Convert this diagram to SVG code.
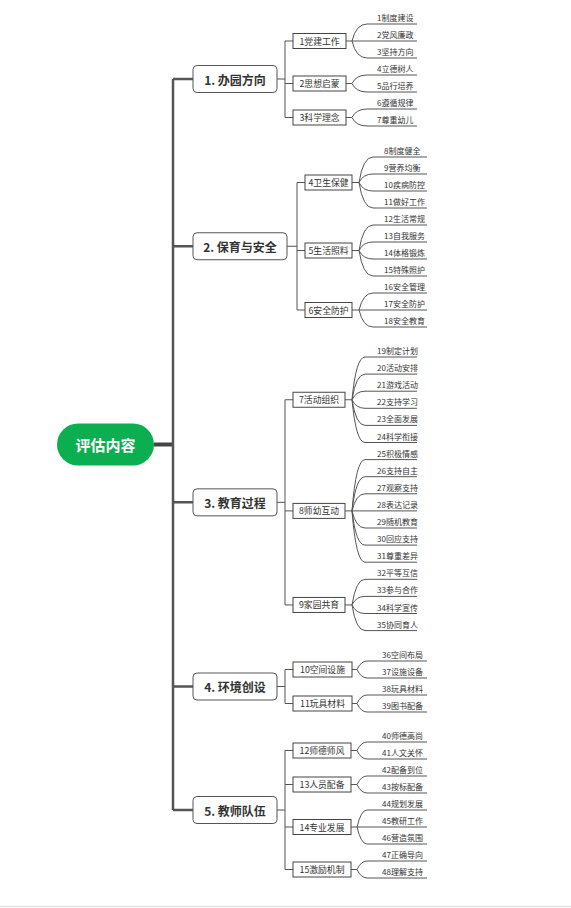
<svg xmlns="http://www.w3.org/2000/svg" width="571" height="908" viewBox="0 0 571 908">
<style>
text{font-family:"Noto Sans CJK SC","Liberation Sans",sans-serif;fill:#333}
.root rect{fill:#0BAF4F}
.root text{fill:#fff;font-size:15px;font-weight:bold}
.l1 rect{fill:#fff;stroke:#555;stroke-width:1}
.l1 text{font-size:12px;font-weight:bold}
.l2 rect{fill:#fff;stroke:#444;stroke-width:1}
.l2 text{font-size:8.8px}
.leaf text{font-size:8px}
.c{fill:none;stroke:#555;stroke-width:1}
.trunk{fill:none;stroke:#555;stroke-width:2.5}
.leafline{fill:none;stroke:#555;stroke-width:1}
</style>
<rect width="571" height="908" fill="#fff"/>
<line x1="0" y1="906.5" x2="571" y2="906.5" stroke="#e2e2e2" stroke-width="1.5"/>
<g id="connectors">
<path class="trunk" d="M154,444.5H173" stroke-width="4" style="stroke-width:4;stroke:#444"/>
<path class="trunk" d="M173,79V810M173,79H193M173,246.25H193M173,502.35H193M173,686.5H193M173,810H193"/>
<path class="c" d="M277,79H285M285,41V117.5M285,41H293M285,83.5H293M285,117.5H293"/>
<path class="c" d="M287,246.25H297M297,182.5V310M297,182.5H305M297,250.5H305M297,310H305"/>
<path class="c" d="M277,502.35H285M285,399.75V604.95M285,399.75H293M285,510.9H293M285,604.95H293"/>
<path class="c" d="M277,686.5H285M285,669.5V703.5M285,669.5H293M285,703.5H293"/>
<path class="c" d="M277,810H285M285,750.5V869.5M285,750.5H293M285,784.5H293M285,827H293M285,869.5H293"/>
<!-- group 1 leaves -->
<path class="leafline" d="M346,41H352M352,41Q356,24 367,24H417M352,41H417M352,41Q356,58 367,58H417"/>
<path class="leafline" d="M346,83.5H352M352,83.5Q356,75 367,75H417M352,83.5Q356,92 367,92H417"/>
<path class="leafline" d="M346,117.5H352M352,117.5Q356,109 367,109H417M352,117.5Q356,126 367,126H417"/>
<!-- group 2 leaves -->
<path class="leafline" d="M352,182.5H359M359,182.5Q363,157 373,157H427M359,182.5Q363,174 373,174H427M359,182.5Q363,191 373,191H427M359,182.5Q363,208 373,208H427"/>
<path class="leafline" d="M352,250.5H359M359,250.5Q363,225 373,225H427M359,250.5Q363,242 373,242H427M359,250.5Q363,259 373,259H427M359,250.5Q363,276 373,276H427"/>
<path class="leafline" d="M352,310H359M359,310Q363,293 373,293H427M359,310H427M359,310Q363,327 373,327H427"/>
<!-- group 3 leaves -->
<path class="leafline" d="M345,399.75H352M352,399.75Q356,357 365,357H417M352,399.75Q356,374.1 365,374.1H417M352,399.75Q356,391.2 365,391.2H417M352,399.75Q356,408.3 365,408.3H417M352,399.75Q356,425.4 365,425.4H417M352,399.75Q356,442.5 365,442.5H417"/>
<path class="leafline" d="M345,510.9H352M352,510.9Q356,459.6 365,459.6H417M352,510.9Q356,476.7 365,476.7H417M352,510.9Q356,493.8 365,493.8H417M352,510.9H417M352,510.9Q356,528 365,528H417M352,510.9Q356,545.1 365,545.1H417M352,510.9Q356,562.2 365,562.2H417"/>
<path class="leafline" d="M345,604.95H352M352,604.95Q356,579.3 365,579.3H417M352,604.95Q356,596.4 365,596.4H417M352,604.95Q356,613.5 365,613.5H417M352,604.95Q356,630.6 365,630.6H417"/>
<!-- group 4 leaves -->
<path class="leafline" d="M352,669.5H357M357,669.5Q361,661 367,661H427M357,669.5Q361,678 367,678H427"/>
<path class="leafline" d="M352,703.5H357M357,703.5Q361,695 367,695H427M357,703.5Q361,712 367,712H427"/>
<!-- group 5 leaves -->
<path class="leafline" d="M351,750.5H357M357,750.5Q361,742 367,742H427M357,750.5Q361,759 367,759H427"/>
<path class="leafline" d="M351,784.5H357M357,784.5Q361,776 367,776H427M357,784.5Q361,793 367,793H427"/>
<path class="leafline" d="M351,827H357M357,827Q361,810 367,810H427M357,827H427M357,827Q361,844 367,844H427"/>
<path class="leafline" d="M351,869.5H357M357,869.5Q361,861 367,861H427M357,869.5Q361,878 367,878H427"/>
</g>
<g id="root" class="root"><rect x="57" y="423.5" width="97" height="42" rx="21"/><text x="105.5" y="444.5" text-anchor="middle" dominant-baseline="central">评估内容</text></g>
<g id="n1" class="l1"><rect x="193" y="65.5" width="84" height="27" rx="4"/><text x="235" y="79" text-anchor="middle" dominant-baseline="central">1. 办园方向</text></g>
<g id="n2" class="l1"><rect x="193" y="232.75" width="94" height="27" rx="4"/><text x="240" y="246.25" text-anchor="middle" dominant-baseline="central">2. 保育与安全</text></g>
<g id="n3" class="l1"><rect x="193" y="488.85" width="84" height="27" rx="4"/><text x="235" y="502.35" text-anchor="middle" dominant-baseline="central">3. 教育过程</text></g>
<g id="n4" class="l1"><rect x="193" y="673" width="84" height="27" rx="4"/><text x="235" y="686.5" text-anchor="middle" dominant-baseline="central">4. 环境创设</text></g>
<g id="n5" class="l1"><rect x="193" y="796.5" width="84" height="27" rx="4"/><text x="235" y="810" text-anchor="middle" dominant-baseline="central">5. 教师队伍</text></g>
<g id="s1" class="l2"><rect x="293" y="33.5" width="53" height="15"/><text x="319.5" y="41" text-anchor="middle" dominant-baseline="central">1党建工作</text></g>
<g id="s2" class="l2"><rect x="293" y="76" width="53" height="15"/><text x="319.5" y="83.5" text-anchor="middle" dominant-baseline="central">2思想启蒙</text></g>
<g id="s3" class="l2"><rect x="293" y="110" width="53" height="15"/><text x="319.5" y="117.5" text-anchor="middle" dominant-baseline="central">3科学理念</text></g>
<g id="s4" class="l2"><rect x="305" y="175" width="47" height="15"/><text x="328.5" y="182.5" text-anchor="middle" dominant-baseline="central">4卫生保健</text></g>
<g id="s5" class="l2"><rect x="305" y="243" width="47" height="15"/><text x="328.5" y="250.5" text-anchor="middle" dominant-baseline="central">5生活照料</text></g>
<g id="s6" class="l2"><rect x="305" y="302.5" width="47" height="15"/><text x="328.5" y="310" text-anchor="middle" dominant-baseline="central">6安全防护</text></g>
<g id="s7" class="l2"><rect x="293" y="392.25" width="52" height="15"/><text x="319" y="399.75" text-anchor="middle" dominant-baseline="central">7活动组织</text></g>
<g id="s8" class="l2"><rect x="293" y="503.4" width="52" height="15"/><text x="319" y="510.9" text-anchor="middle" dominant-baseline="central">8师幼互动</text></g>
<g id="s9" class="l2"><rect x="293" y="597.45" width="52" height="15"/><text x="319" y="604.95" text-anchor="middle" dominant-baseline="central">9家园共育</text></g>
<g id="s10" class="l2"><rect x="293" y="662" width="59" height="15"/><text x="322.5" y="669.5" text-anchor="middle" dominant-baseline="central">10空间设施</text></g>
<g id="s11" class="l2"><rect x="293" y="696" width="59" height="15"/><text x="322.5" y="703.5" text-anchor="middle" dominant-baseline="central">11玩具材料</text></g>
<g id="s12" class="l2"><rect x="293" y="743" width="58" height="15"/><text x="322" y="750.5" text-anchor="middle" dominant-baseline="central">12师德师风</text></g>
<g id="s13" class="l2"><rect x="293" y="777" width="58" height="15"/><text x="322" y="784.5" text-anchor="middle" dominant-baseline="central">13人员配备</text></g>
<g id="s14" class="l2"><rect x="293" y="819.5" width="58" height="15"/><text x="322" y="827" text-anchor="middle" dominant-baseline="central">14专业发展</text></g>
<g id="s15" class="l2"><rect x="293" y="862" width="58" height="15"/><text x="322" y="869.5" text-anchor="middle" dominant-baseline="central">15激励机制</text></g>
<g id="leaves" class="leaf">
<text x="377" y="21">1制度建设</text>
<text x="377" y="38">2党风廉政</text>
<text x="377" y="55">3坚持方向</text>
<text x="377" y="72">4立德树人</text>
<text x="377" y="89">5品行培养</text>
<text x="377" y="106">6遵循规律</text>
<text x="377" y="123">7尊重幼儿</text>
<text x="384" y="154">8制度健全</text>
<text x="384" y="171">9营养均衡</text>
<text x="384" y="188">10疾病防控</text>
<text x="384" y="205">11做好工作</text>
<text x="384" y="222">12生活常规</text>
<text x="384" y="239">13自我服务</text>
<text x="384" y="256">14体格锻炼</text>
<text x="384" y="273">15特殊照护</text>
<text x="384" y="290">16安全管理</text>
<text x="384" y="307">17安全防护</text>
<text x="384" y="324">18安全教育</text>
<text x="377" y="354">19制定计划</text>
<text x="377" y="371.1">20活动安排</text>
<text x="377" y="388.2">21游戏活动</text>
<text x="377" y="405.3">22支持学习</text>
<text x="377" y="422.4">23全面发展</text>
<text x="377" y="439.5">24科学衔接</text>
<text x="377" y="456.6">25积极情感</text>
<text x="377" y="473.7">26支持自主</text>
<text x="377" y="490.8">27观察支持</text>
<text x="377" y="507.9">28表达记录</text>
<text x="377" y="525">29随机教育</text>
<text x="377" y="542.1">30回应支持</text>
<text x="377" y="559.2">31尊重差异</text>
<text x="377" y="576.3">32平等互信</text>
<text x="377" y="593.4">33参与合作</text>
<text x="377" y="610.5">34科学宣传</text>
<text x="377" y="627.6">35协同育人</text>
<text x="382" y="658">36空间布局</text>
<text x="382" y="675">37设施设备</text>
<text x="382" y="692">38玩具材料</text>
<text x="382" y="709">39图书配备</text>
<text x="382" y="739">40师德高尚</text>
<text x="382" y="756">41人文关怀</text>
<text x="382" y="773">42配备到位</text>
<text x="382" y="790">43按标配备</text>
<text x="382" y="807">44规划发展</text>
<text x="382" y="824">45教研工作</text>
<text x="382" y="841">46营造氛围</text>
<text x="382" y="858">47正确导向</text>
<text x="382" y="875">48理解支持</text>
</g>
</svg>
